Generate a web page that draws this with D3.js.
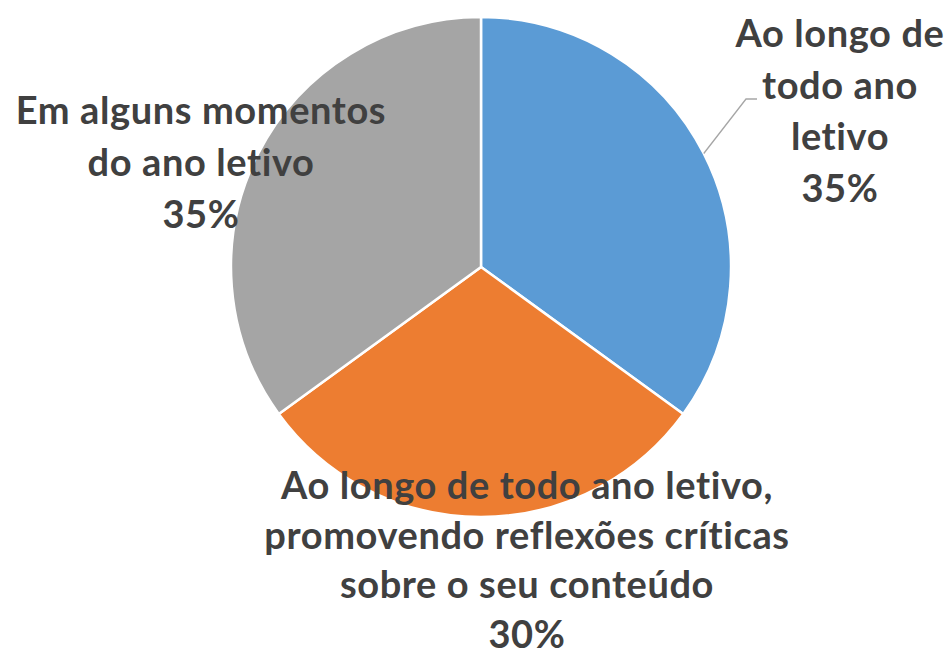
<!DOCTYPE html>
<html>
<head>
<meta charset="utf-8">
<script src="https://cdn.jsdelivr.net/npm/d3@7"></script>
<style>
  html, body { margin: 0; padding: 0; background: #fff; }
  svg { display: block; }
</style>
</head>
<body>
<svg id="chart"></svg>
<script>
const width = 951;
const height = 657;

// data
const categories = [
  "Ao longo de todo ano letivo",
  "Ao longo de todo ano letivo, promovendo reflexões críticas sobre o seu conteúdo",
  "Em alguns momentos do ano letivo"
];
const values = [35, 30, 35];
const colors = ["#5B9BD5", "#ED7D31", "#A5A5A5"];

// label text lines as shown on the chart
const labelLines = [
  ["Ao longo de", "todo ano", "letivo"],
  ["Ao longo de todo ano letivo,", "promovendo reflexões críticas", "sobre o seu conteúdo"],
  ["Em alguns momentos", "do ano letivo"]
];

// layout
const cx = 481, cy = 267, radius = 250;
const labelPos = [
  {x: 840, y: 47, lh: 51.5},
  {x: 527, y: 499, lh: 49.6},
  {x: 201, y: 124, lh: 52}
];

const svg = d3.select("#chart")
    .attr("width", width)
    .attr("height", height);

const pie = d3.pie().sort(null).value(d => d);
const arcs = pie(values);

const arc = d3.arc().innerRadius(0).outerRadius(radius);
const edge = d3.arc().innerRadius(radius).outerRadius(radius);

const g = svg.append("g").attr("transform", `translate(${cx},${cy})`);

g.selectAll("path.slice")
  .data(arcs)
  .join("path")
    .attr("class", "slice")
    .attr("d", arc)
    .attr("fill", (d, i) => colors[i])
    .attr("stroke", "#fff")
    .attr("stroke-width", 2.5);

// leader line for the first slice
const p0 = edge.centroid(arcs[0]);
svg.append("polyline")
    .attr("points", [
      [cx + p0[0], cy + p0[1]],
      [746, 99],
      [757, 99]
    ].map(p => p.join(",")).join(" "))
    .attr("fill", "none")
    .attr("stroke", "#A6A6A6")
    .attr("stroke-width", 1.3);

// labels
arcs.forEach((d, i) => {
  const pct = d3.format(".0%")(d.value / d3.sum(values));
  const lines = labelLines[i].concat([pct]);
  const t = svg.append("text")
      .attr("x", labelPos[i].x)
      .attr("y", labelPos[i].y)
      .attr("text-anchor", "middle")
      .attr("fill", "#404040")
      .style("font-family", "Lato, 'Open Sans', sans-serif")
      .style("font-weight", "bold")
      .style("font-size", "38px")
      .style("letter-spacing", "0.6px");
  t.selectAll("tspan")
    .data(lines)
    .join("tspan")
      .attr("x", labelPos[i].x)
      .attr("dy", (s, j) => j === 0 ? 0 : labelPos[i].lh)
      .text(s => s);
});
</script>
</body>
</html>
